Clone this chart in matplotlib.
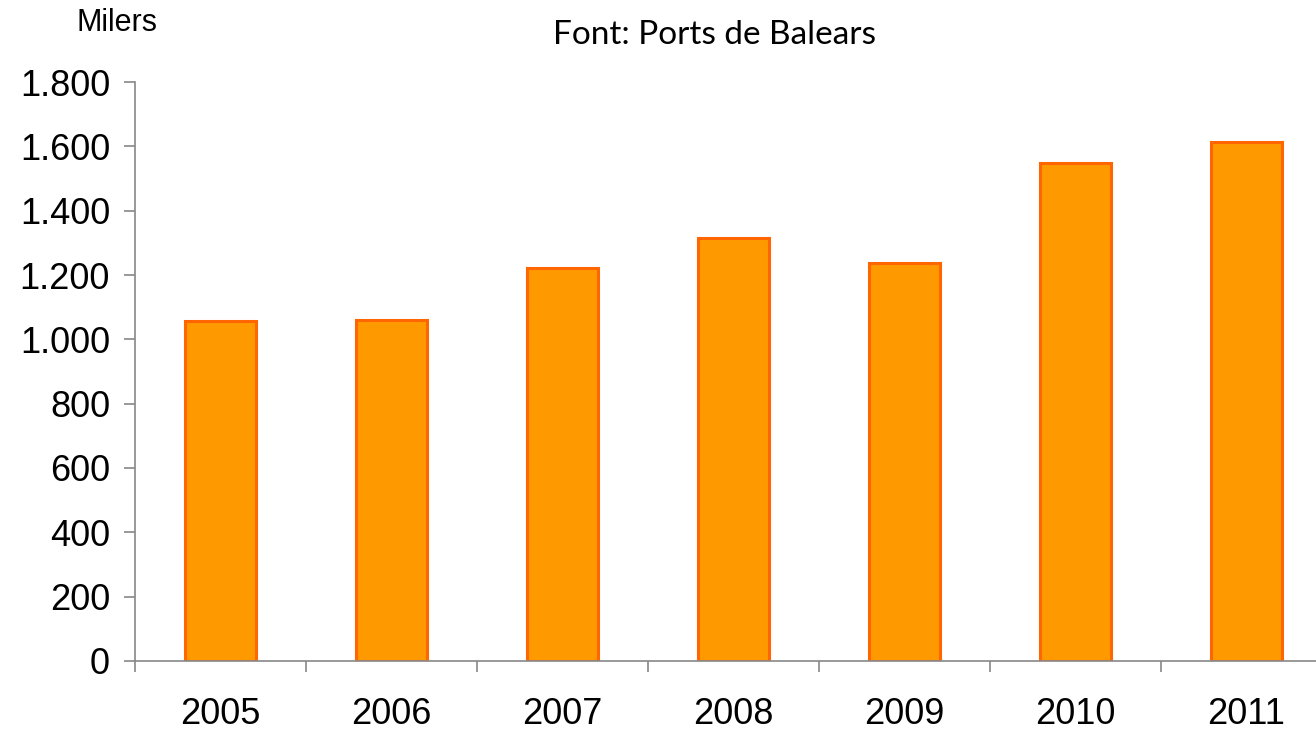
import matplotlib.pyplot as plt
import numpy as np

# dades (milers)
years = ['2005', '2006', '2007', '2008', '2009', '2010', '2011']
values = [1057, 1060, 1222, 1315, 1237, 1548, 1613]
yticks = [0, 200, 400, 600, 800, 1000, 1200, 1400, 1600, 1800]

plt.rcParams['font.family'] = ['Liberation Sans', 'DejaVu Sans']

fig = plt.figure(figsize=(13.16, 7.31), dpi=100)
ax = fig.add_axes([0.1026, 0.0958, 0.9096, 0.792])

x = np.arange(len(years))
ax.bar(x, values, width=0.41, color='#FF9900', edgecolor='#FF6600', linewidth=2.2)

ax.set_xlim(-0.5, len(years) - 0.5)
ax.set_ylim(0, 1800)
ax.set_yticks(yticks)
ax.set_yticklabels(['{:,}'.format(v).replace(',', '.') for v in yticks])
ax.set_xticks(x)
ax.set_xticklabels(years)
ax.set_xticks(np.arange(len(years) + 1) - 0.5, minor=True)

ax.tick_params(axis='y', length=8, width=1.2, color='#888888', labelsize=26, pad=10)
ax.tick_params(axis='x', which='major', length=0, labelsize=26, pad=26)
ax.tick_params(axis='x', which='minor', length=8, width=1.2, color='#888888')

for s in ['top', 'right']:
    ax.spines[s].set_visible(False)
for s in ['left', 'bottom']:
    ax.spines[s].set_color('#888888')
    ax.spines[s].set_linewidth(1.2)

fig.text(0.089, 0.968, 'Milers', fontsize=22, ha='center', va='center')
fig.text(0.543, 0.952, 'Font: Ports de Balears', fontsize=24, ha='center', va='center',
         family=['Lato', 'DejaVu Sans'])

fig.savefig('out.png', dpi=100)
